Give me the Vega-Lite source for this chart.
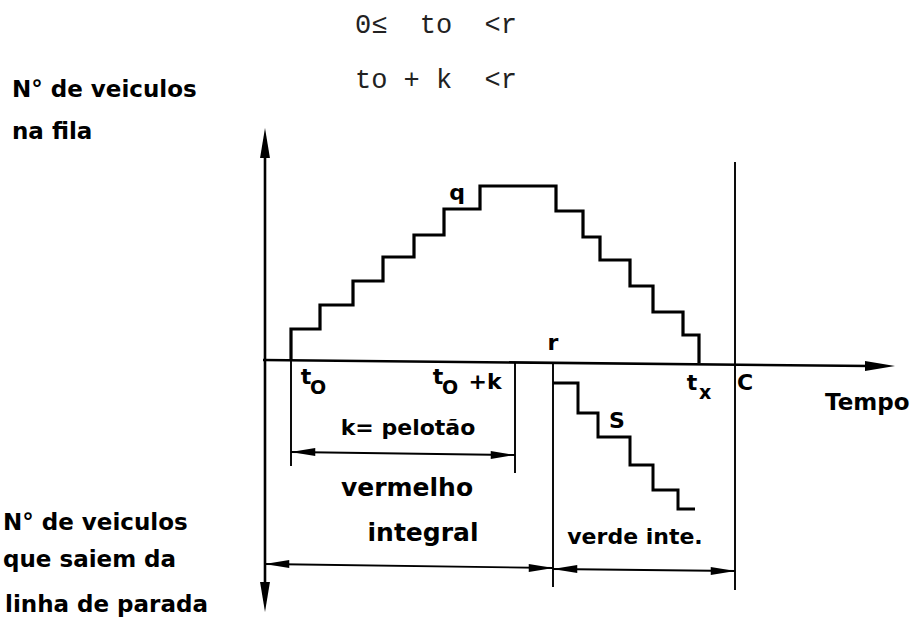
{
  "$schema": "https://vega.github.io/schema/vega-lite/v6.json",
  "width": 911,
  "height": 623,
  "autosize": {"type": "fit", "contains": "padding"},
  "padding": 0,
  "background": "white",
  "config": {"view": {"stroke": null}},
  "datasets": {
    "fila": [
      {"i": 0, "x": 2.6, "y": 0.2}, {"i": 1, "x": 2.6, "y": 3.3}, {"i": 2, "x": 5.5, "y": 3.3}, {"i": 3, "x": 5.5, "y": 5.7},
      {"i": 4, "x": 8.8, "y": 5.7}, {"i": 5, "x": 8.8, "y": 8.1}, {"i": 6, "x": 11.8, "y": 8.1}, {"i": 7, "x": 11.8, "y": 10.5},
      {"i": 8, "x": 14.9, "y": 10.5}, {"i": 9, "x": 14.9, "y": 12.7}, {"i": 10, "x": 17.9, "y": 12.7}, {"i": 11, "x": 17.9, "y": 15.3},
      {"i": 12, "x": 21.5, "y": 15.3}, {"i": 13, "x": 21.5, "y": 17.6}, {"i": 14, "x": 29.1, "y": 17.6}, {"i": 15, "x": 29.1, "y": 15.1},
      {"i": 16, "x": 31.8, "y": 15.1}, {"i": 17, "x": 31.8, "y": 12.5}, {"i": 18, "x": 33.5, "y": 12.5}, {"i": 19, "x": 33.5, "y": 10.2},
      {"i": 20, "x": 36.5, "y": 10.2}, {"i": 21, "x": 36.5, "y": 7.6}, {"i": 22, "x": 38.8, "y": 7.6}, {"i": 23, "x": 38.8, "y": 5.0},
      {"i": 24, "x": 41.8, "y": 5.0}, {"i": 25, "x": 41.8, "y": 2.7}, {"i": 26, "x": 43.4, "y": 2.7}, {"i": 27, "x": 43.4, "y": -0.1}
    ],
    "saida": [
      {"i": 0, "x": 28.8, "y": -2.1}, {"i": 1, "x": 31.3, "y": -2.1}, {"i": 2, "x": 31.3, "y": -5.1}, {"i": 3, "x": 33.3, "y": -5.1},
      {"i": 4, "x": 33.3, "y": -7.5}, {"i": 5, "x": 36.5, "y": -7.5}, {"i": 6, "x": 36.5, "y": -10.3}, {"i": 7, "x": 38.8, "y": -10.3},
      {"i": 8, "x": 38.8, "y": -12.8}, {"i": 9, "x": 41.3, "y": -12.8}, {"i": 10, "x": 41.3, "y": -14.7}, {"i": 11, "x": 43.0, "y": -14.7}
    ],
    "eixos": [
      {"x": 0, "y": 21.2, "x2": 0, "y2": -23.8},
      {"x": -0.2, "y": 0.2, "x2": 60.5, "y2": -0.4}
    ],
    "cotas": [
      {"x": 2.6, "y": 0.2, "x2": 2.6, "y2": -10.4},
      {"x": 25.0, "y": -0.1, "x2": 25.0, "y2": -11.1},
      {"x": 28.8, "y": -0.1, "x2": 28.8, "y2": -22.5},
      {"x": 47.0, "y": 20.0, "x2": 47.0, "y2": -22.8},
      {"x": 2.6, "y": -9.0, "x2": 25.0, "y2": -9.3},
      {"x": 0, "y": -20.2, "x2": 28.8, "y2": -20.6},
      {"x": 28.8, "y": -20.7, "x2": 47.0, "y2": -20.9}
    ],
    "setas_eixo": [
      {"x": 0, "y": 21.9, "dir": "up"},
      {"x": 0, "y": -23.5, "dir": "down"},
      {"x": 61.5, "y": -0.4, "dir": "right"}
    ],
    "setas_cota": [
      {"x": 3.8, "y": -9.0, "dir": "left"},
      {"x": 23.8, "y": -9.3, "dir": "right"},
      {"x": 1.2, "y": -20.2, "dir": "left"},
      {"x": 27.6, "y": -20.6, "dir": "right"},
      {"x": 30.0, "y": -20.7, "dir": "left"},
      {"x": 45.8, "y": -20.9, "dir": "right"}
    ],
    "rotulos": [
      {"kind": "side", "text": "N° de veiculos", "x": -25.3, "y": 27.2},
      {"kind": "side", "text": "na fila", "x": -25.3, "y": 23.0},
      {"kind": "side", "text": "N° de veiculos", "x": -26.2, "y": -16.1},
      {"kind": "side", "text": "que saiem da", "x": -26.2, "y": -19.8},
      {"kind": "side", "text": "linha de parada", "x": -26.0, "y": -24.3},
      {"kind": "side", "text": "Tempo", "x": 56.0, "y": -4.1},
      {"kind": "main", "text": "q", "x": 19.2, "y": 16.9},
      {"kind": "main", "text": "r", "x": 28.8, "y": 1.9},
      {"kind": "main", "text": "t", "x": 4.1, "y": -1.5},
      {"kind": "main", "text": "t", "x": 17.3, "y": -1.5},
      {"kind": "main", "text": "+k", "x": 22.0, "y": -2.0},
      {"kind": "main", "text": "t", "x": 42.7, "y": -2.1},
      {"kind": "main", "text": "C", "x": 48.0, "y": -2.1},
      {"kind": "main", "text": "S", "x": 35.2, "y": -5.9},
      {"kind": "main", "text": "k= pelotão", "x": 14.3, "y": -6.6},
      {"kind": "main", "text": "verde inte.", "x": 37.0, "y": -17.5},
      {"kind": "big", "text": "vermelho", "x": 14.2, "y": -12.6},
      {"kind": "big", "text": "integral", "x": 15.8, "y": -17.1},
      {"kind": "sub", "text": "O", "x": 5.3, "y": -2.6},
      {"kind": "sub", "text": "O", "x": 18.5, "y": -2.6},
      {"kind": "sub", "text": "x", "x": 44.0, "y": -3.1},
      {"kind": "formula", "text": "0≤\u00a0\u00a0to\u00a0\u00a0<r", "x": 9.0, "y": 33.7},
      {"kind": "formula", "text": "to\u00a0+\u00a0k\u00a0\u00a0<r", "x": 9.0, "y": 28.2}
    ]
  },
  "encoding": {
    "x": {"field": "x", "type": "quantitative", "scale": {"domain": [-26.5, 64.6], "nice": false, "zero": false}, "axis": null},
    "y": {"field": "y", "type": "quantitative", "scale": {"domain": [-26.1, 36.2], "nice": false, "zero": false}, "axis": null}
  },
  "layer": [
    {
      "data": {"name": "eixos"},
      "mark": {"type": "rule", "color": "black", "strokeWidth": 2.6},
      "encoding": {"x2": {"field": "x2"}, "y2": {"field": "y2"}}
    },
    {
      "data": {"name": "cotas"},
      "mark": {"type": "rule", "color": "black", "strokeWidth": 1.9},
      "encoding": {"x2": {"field": "x2"}, "y2": {"field": "y2"}}
    },
    {
      "data": {"name": "fila"},
      "mark": {"type": "line", "color": "black", "strokeWidth": 3.2, "strokeJoin": "miter"},
      "encoding": {"order": {"field": "i", "type": "quantitative"}}
    },
    {
      "data": {"name": "saida"},
      "mark": {"type": "line", "color": "black", "strokeWidth": 3, "strokeJoin": "miter"},
      "encoding": {"order": {"field": "i", "type": "quantitative"}}
    },
    {
      "data": {"name": "setas_eixo"},
      "mark": {"type": "point", "filled": true, "color": "black", "opacity": 1, "size": 900, "strokeWidth": 0},
      "encoding": {
        "shape": {"field": "dir", "type": "nominal", "legend": null,
          "scale": {"domain": ["up", "down", "left", "right"],
            "range": ["M0,-1L0.33,1L-0.33,1Z", "M0,1L0.33,-1L-0.33,-1Z", "M-1,0L1,-0.33L1,0.33Z", "M1,0L-1,-0.33L-1,0.33Z"]}}
      }
    },
    {
      "data": {"name": "setas_cota"},
      "mark": {"type": "point", "filled": true, "color": "black", "opacity": 1, "size": 600, "strokeWidth": 0},
      "encoding": {
        "shape": {"field": "dir", "type": "nominal", "legend": null,
          "scale": {"domain": ["up", "down", "left", "right"],
            "range": ["M0,-1L0.33,1L-0.33,1Z", "M0,1L0.33,-1L-0.33,-1Z", "M-1,0L1,-0.33L1,0.33Z", "M1,0L-1,-0.33L-1,0.33Z"]}}
      }
    },
    {
      "data": {"name": "rotulos"},
      "transform": [{"filter": "datum.kind === 'side'"}],
      "mark": {"type": "text", "align": "left", "baseline": "middle", "font": "DejaVu Sans", "fontWeight": "bold", "fontSize": 23, "color": "black"},
      "encoding": {"text": {"field": "text"}}
    },
    {
      "data": {"name": "rotulos"},
      "transform": [{"filter": "datum.kind === 'main'"}],
      "mark": {"type": "text", "align": "center", "baseline": "middle", "font": "DejaVu Sans", "fontWeight": "bold", "fontSize": 22, "color": "black"},
      "encoding": {"text": {"field": "text"}}
    },
    {
      "data": {"name": "rotulos"},
      "transform": [{"filter": "datum.kind === 'big'"}],
      "mark": {"type": "text", "align": "center", "baseline": "middle", "font": "DejaVu Sans", "fontWeight": "bold", "fontSize": 25, "color": "black"},
      "encoding": {"text": {"field": "text"}}
    },
    {
      "data": {"name": "rotulos"},
      "transform": [{"filter": "datum.kind === 'sub'"}],
      "mark": {"type": "text", "align": "center", "baseline": "middle", "font": "DejaVu Sans", "fontWeight": "bold", "fontSize": 19, "color": "black"},
      "encoding": {"text": {"field": "text"}}
    },
    {
      "data": {"name": "rotulos"},
      "transform": [{"filter": "datum.kind === 'formula'"}],
      "mark": {"type": "text", "align": "left", "baseline": "middle", "font": "Liberation Mono", "fontSize": 27, "color": "#222222"},
      "encoding": {"text": {"field": "text"}}
    }
  ]
}
